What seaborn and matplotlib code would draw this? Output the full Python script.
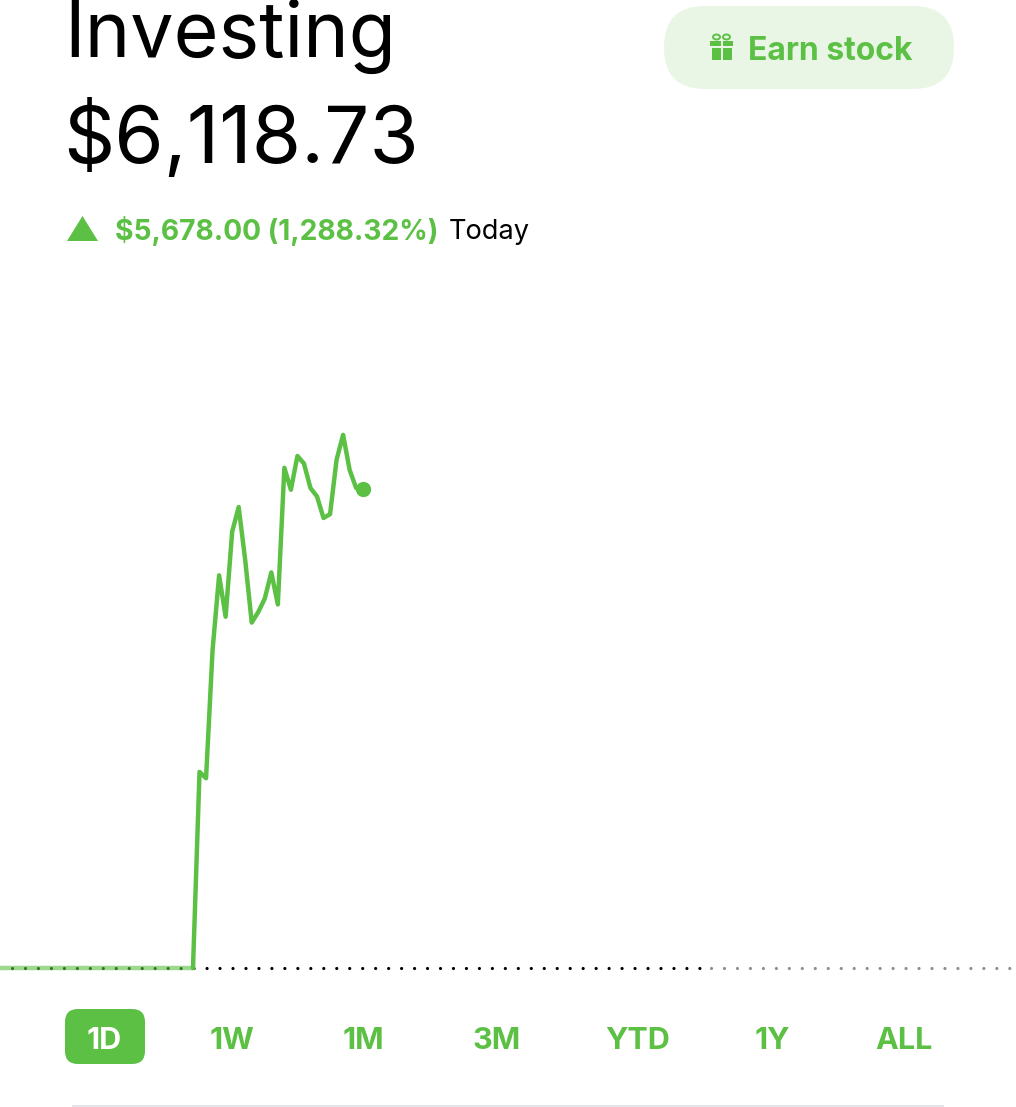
import numpy as np
import pandas as pd
import matplotlib
matplotlib.use('Agg')
import matplotlib.pyplot as plt
import seaborn as sns
from matplotlib.patches import FancyBboxPatch, Polygon, Rectangle, Ellipse

sns.set_style('white')
plt.rcParams['font.family'] = ['Inter', 'DejaVu Sans']

GREEN = '#5BC044'
PALE = '#E9F6E5'

# Portfolio value (time = step in the trading day)
prev_close = 440.73
flat_time = [0, 30]
flat_value = [440.73, 440.73]
rally_time = [30, 31, 32, 33, 34, 35, 36, 37, 38, 39, 40, 41, 42, 43, 44, 45, 46,
              47, 48, 49, 50, 51, 52, 53, 54, 55, 56]
rally_value = [440, 2765, 2690, 4210, 5095, 4605, 5610, 5905, 5275, 4535, 4660,
               4820, 5130, 4750, 6370, 6110, 6510, 6420, 6130, 6030, 5775, 5820,
               6465, 6760, 6345, 6130, 6118.73]
black_dots = [2.27, 108.4]
grey_dots = [109.4, 158]

periods = ['1D', '1W', '1M', '3M', 'YTD', '1Y', 'ALL']
period_x = [104, 232, 363, 497, 638, 772, 904]

fig = plt.figure(figsize=(10.16, 11.07), dpi=100)

# chart layer fills the whole picture
ax = fig.add_axes([0, 0, 1, 1])
ax.set_xlim(0.43, 156.1)
ax.set_ylim(-1207, 11915)
ax.axis('off')

# previous close, dotted: black up to now, grey after
ax.plot(black_dots, [prev_close, prev_close], color='black', lw=2.3,
        linestyle=(0, (0.01, 4.05)), dash_capstyle='round', zorder=1)
ax.plot(grey_dots, [prev_close, prev_close], color='#8E8E8E', lw=2.3,
        linestyle=(0, (0.01, 4.05)), dash_capstyle='round', zorder=1)

flat = pd.DataFrame({'time': flat_time, 'value': flat_value})
rally = pd.DataFrame({'time': rally_time, 'value': rally_value})
sns.lineplot(data=flat, x='time', y='value', color=GREEN, lw=3.2, alpha=0.6, ax=ax, zorder=2)
sns.lineplot(data=rally, x='time', y='value', color=GREEN, lw=3.2, ax=ax, zorder=3)
ax.plot(rally_time[-1], rally_value[-1], 'o', color=GREEN, ms=11, mew=0, zorder=4)
ax.set_xlabel('')
ax.set_ylabel('')

# text and buttons, in picture pixels
ui = fig.add_axes([0, 0, 1, 1])
ui.set_xlim(0, 1016)
ui.set_ylim(1107, 0)
ui.axis('off')
ui.patch.set_alpha(0)

ui.text(64, 57, 'Investing', fontsize=55.5, color='black', va='baseline', ha='left')
ui.text(63, 163, '$6,118.73', fontsize=57.5, color='black', va='baseline', ha='left')

ui.add_patch(Polygon([[67, 241], [98, 241], [82.5, 216]], closed=True, color=GREEN, lw=0))
ui.text(115, 240, '$5,678.00 (1,288.32%)', fontsize=20.3, fontweight='bold', color=GREEN,
        va='baseline', ha='left')
ui.text(449, 239, 'Today', fontsize=19.6, color='black', va='baseline', ha='left')

# Earn stock button
ui.add_patch(FancyBboxPatch((664, 6), 290, 83, boxstyle='round,pad=0,rounding_size=41',
                            fc=PALE, ec='none'))
ui.add_patch(Rectangle((710, 41), 10.5, 5, color=GREEN, lw=0))
ui.add_patch(Rectangle((722.5, 41), 10.5, 5, color=GREEN, lw=0))
ui.add_patch(Rectangle((711.5, 48), 9, 12, color=GREEN, lw=0))
ui.add_patch(Rectangle((722.5, 48), 9, 12, color=GREEN, lw=0))
ui.add_patch(Ellipse((716.5, 37), 7, 5, fc='none', ec=GREEN, lw=1.4))
ui.add_patch(Ellipse((726.5, 37), 7, 5, fc='none', ec=GREEN, lw=1.4))
ui.text(748, 48, 'Earn stock', fontsize=23, fontweight='bold', color=GREEN,
        va='center_baseline', ha='left')

# period selector
ui.add_patch(FancyBboxPatch((65, 1009), 80, 55, boxstyle='round,pad=0,rounding_size=13',
                            fc=GREEN, ec='none'))
for i, (label, x) in enumerate(zip(periods, period_x)):
    ui.text(x, 1038, label, fontsize=22, fontweight='bold', color='white' if i == 0 else GREEN,
            va='center_baseline', ha='center')

ui.plot([72, 944], [1106, 1106], color='#E3E5E8', lw=1.4, solid_capstyle='butt')

fig.savefig('out.png', dpi=100)
